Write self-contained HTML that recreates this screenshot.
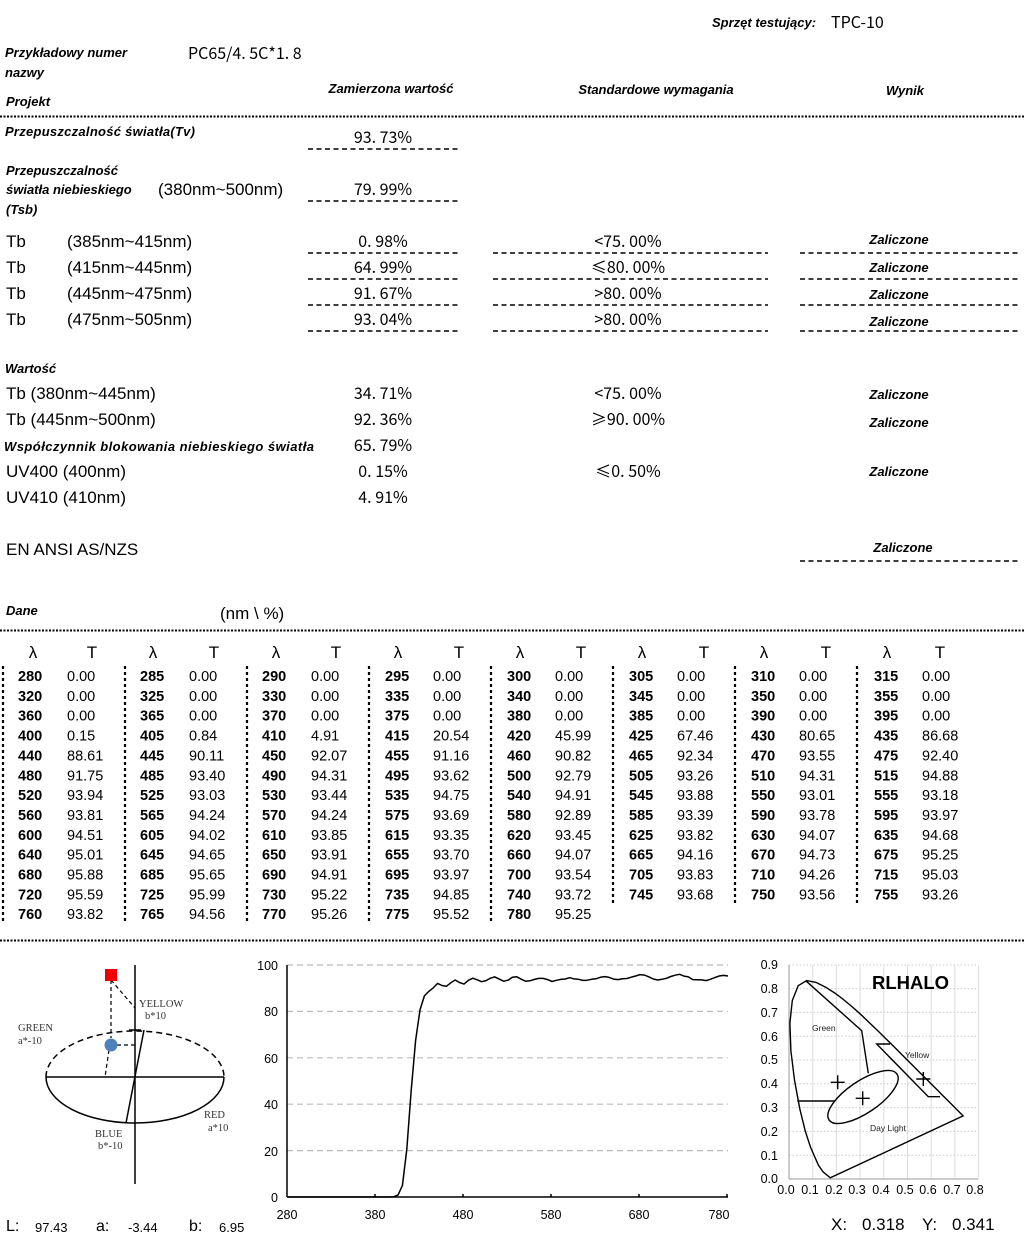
<!DOCTYPE html>
<html><head><meta charset="utf-8"><style>
html,body{margin:0;padding:0;background:#fff;}
svg{display:block;}
.bi{font-family:"Liberation Sans",sans-serif;font-weight:bold;font-style:italic;font-size:13px;}
.r{font-family:"Liberation Sans",sans-serif;font-size:17px;}
.v{font-family:"Noto Sans CJK SC","Liberation Sans",sans-serif;font-size:16px;}
.tb{font-family:"Liberation Sans",sans-serif;font-size:14.5px;}
.tb .n{font-weight:bold;}
.ax{font-family:"Liberation Sans",sans-serif;font-size:12.5px;}
.ser{font-family:"Liberation Serif",serif;font-size:10.5px;fill:#333;}
</style></head><body>
<svg width="1024" height="1238" viewBox="0 0 1024 1238" xmlns="http://www.w3.org/2000/svg">
<g fill="#000">
<text class="bi" x="712" y="27">Sprzęt testujący:</text>
<text class="v" x="831" y="28" font-size="14">TPC-10</text>
<text class="bi" x="5" y="57">Przykładowy numer</text>
<text class="bi" x="5" y="77">nazwy</text>
<text class="bi" x="6" y="106">Projekt</text>
<text class="v" x="188" y="59" font-size="14">PC65/4. 5C*1. 8</text>
<text class="bi" x="391" y="93" text-anchor="middle">Zamierzona wartość</text>
<text class="bi" x="656" y="94" text-anchor="middle">Standardowe wymagania</text>
<text class="bi" x="905" y="95" text-anchor="middle">Wynik</text>

<text class="bi" x="5" y="136" textLength="190">Przepuszczalność światła(Tv)</text>
<text class="v" x="383" y="143" text-anchor="middle">93. 73%</text>
<text class="bi" x="6" y="175">Przepuszczalność</text>
<text class="bi" x="6" y="194">światła niebieskiego</text>
<text class="r" x="158" y="195">(380nm~500nm)</text>
<text class="bi" x="6" y="214">(Tsb)</text>
<text class="v" x="383" y="195" text-anchor="middle">79. 99%</text>

<text class="r" x="6" y="247">Tb</text><text class="r" x="67" y="247">(385nm~415nm)</text>
<text class="r" x="6" y="273">Tb</text><text class="r" x="67" y="273">(415nm~445nm)</text>
<text class="r" x="6" y="299">Tb</text><text class="r" x="67" y="299">(445nm~475nm)</text>
<text class="r" x="6" y="325">Tb</text><text class="r" x="67" y="325">(475nm~505nm)</text>
<text class="v" x="383" y="247" text-anchor="middle">0. 98%</text>
<text class="v" x="383" y="273" text-anchor="middle">64. 99%</text>
<text class="v" x="383" y="299" text-anchor="middle">91. 67%</text>
<text class="v" x="383" y="325" text-anchor="middle">93. 04%</text>
<text class="v" x="628" y="247" text-anchor="middle">&lt;75. 00%</text>
<text class="v" x="628" y="273" text-anchor="middle">≤80. 00%</text>
<text class="v" x="628" y="299" text-anchor="middle">&gt;80. 00%</text>
<text class="v" x="628" y="325" text-anchor="middle">&gt;80. 00%</text>
<text class="bi" x="899" y="244" text-anchor="middle">Zaliczone</text>
<text class="bi" x="899" y="272" text-anchor="middle">Zaliczone</text>
<text class="bi" x="899" y="299" text-anchor="middle">Zaliczone</text>
<text class="bi" x="899" y="326" text-anchor="middle">Zaliczone</text>

<text class="bi" x="5" y="373">Wartość</text>
<text class="r" x="6" y="399">Tb  (380nm~445nm)</text>
<text class="r" x="6" y="425">Tb  (445nm~500nm)</text>
<text class="bi" x="4" y="451" textLength="310">Współczynnik blokowania niebieskiego światła</text>
<text class="r" x="6" y="477">UV400   (400nm)</text>
<text class="r" x="6" y="503">UV410   (410nm)</text>
<text class="v" x="383" y="399" text-anchor="middle">34. 71%</text>
<text class="v" x="383" y="425" text-anchor="middle">92. 36%</text>
<text class="v" x="383" y="451" text-anchor="middle">65. 79%</text>
<text class="v" x="383" y="477" text-anchor="middle">0. 15%</text>
<text class="v" x="383" y="503" text-anchor="middle">4. 91%</text>
<text class="v" x="628" y="399" text-anchor="middle">&lt;75. 00%</text>
<text class="v" x="628" y="425" text-anchor="middle">≥90. 00%</text>
<text class="v" x="628" y="477" text-anchor="middle">≤0. 50%</text>
<text class="bi" x="899" y="399" text-anchor="middle">Zaliczone</text>
<text class="bi" x="899" y="427" text-anchor="middle">Zaliczone</text>
<text class="bi" x="899" y="476" text-anchor="middle">Zaliczone</text>
<text class="r" x="6" y="555">EN ANSI AS/NZS</text>
<text class="bi" x="903" y="552" text-anchor="middle">Zaliczone</text>
<text class="bi" x="6" y="615">Dane</text>
<text class="r" x="220" y="619">(nm \  %)</text>
</g>

<g stroke="#000" stroke-width="2" stroke-dasharray="2 1.5">
<line x1="0" y1="116.5" x2="1024" y2="116.5"/>
<line x1="0" y1="630.5" x2="1024" y2="630.5"/>
<line x1="0" y1="940.5" x2="1024" y2="940.5"/>
</g>
<g stroke="#000" stroke-width="1.6" stroke-dasharray="5 3.5">
<line x1="308" y1="149" x2="459" y2="149"/>
<line x1="308" y1="201" x2="459" y2="201"/>
<line x1="308" y1="253" x2="459" y2="253"/>
<line x1="308" y1="279" x2="459" y2="279"/>
<line x1="308" y1="305" x2="459" y2="305"/>
<line x1="308" y1="331" x2="459" y2="331"/>
<line x1="493" y1="253" x2="768" y2="253"/>
<line x1="493" y1="279" x2="768" y2="279"/>
<line x1="493" y1="305" x2="768" y2="305"/>
<line x1="493" y1="331" x2="768" y2="331"/>
<line x1="800" y1="253" x2="1020" y2="253"/>
<line x1="800" y1="279" x2="1020" y2="279"/>
<line x1="800" y1="305" x2="1020" y2="305"/>
<line x1="800" y1="331" x2="1020" y2="331"/>
<line x1="800" y1="561" x2="1020" y2="561"/>
</g>

<g class="r" font-size="17" text-anchor="middle">
<text x="33" y="658">λ</text><text x="92" y="658">T</text>
<text x="153" y="658">λ</text><text x="214" y="658">T</text>
<text x="276" y="658">λ</text><text x="336" y="658">T</text>
<text x="398" y="658">λ</text><text x="459" y="658">T</text>
<text x="520" y="658">λ</text><text x="581" y="658">T</text>
<text x="642" y="658">λ</text><text x="704" y="658">T</text>
<text x="764" y="658">λ</text><text x="826" y="658">T</text>
<text x="887" y="658">λ</text><text x="940" y="658">T</text>
</g>
<g stroke="#000" stroke-width="2.2" stroke-dasharray="3 3">
<line x1="3" y1="666" x2="3" y2="921"/><line x1="125" y1="666" x2="125" y2="921"/>
<line x1="247" y1="666" x2="247" y2="921"/><line x1="369" y1="666" x2="369" y2="921"/>
<line x1="491" y1="666" x2="491" y2="921"/><line x1="613" y1="666" x2="613" y2="903"/>
<line x1="735" y1="666" x2="735" y2="903"/><line x1="857" y1="666" x2="857" y2="903"/>
</g>
<g class="tb">
<text class="n" y="661"><tspan x="18" dy="20">280</tspan><tspan x="18" dy="19.85">320</tspan><tspan x="18" dy="19.85">360</tspan><tspan x="18" dy="19.85">400</tspan><tspan x="18" dy="19.85">440</tspan><tspan x="18" dy="19.85">480</tspan><tspan x="18" dy="19.85">520</tspan><tspan x="18" dy="19.85">560</tspan><tspan x="18" dy="19.85">600</tspan><tspan x="18" dy="19.85">640</tspan><tspan x="18" dy="19.85">680</tspan><tspan x="18" dy="19.85">720</tspan><tspan x="18" dy="19.85">760</tspan></text>
<text y="661"><tspan x="67" dy="20">0.00</tspan><tspan x="67" dy="19.85">0.00</tspan><tspan x="67" dy="19.85">0.00</tspan><tspan x="67" dy="19.85">0.15</tspan><tspan x="67" dy="19.85">88.61</tspan><tspan x="67" dy="19.85">91.75</tspan><tspan x="67" dy="19.85">93.94</tspan><tspan x="67" dy="19.85">93.81</tspan><tspan x="67" dy="19.85">94.51</tspan><tspan x="67" dy="19.85">95.01</tspan><tspan x="67" dy="19.85">95.88</tspan><tspan x="67" dy="19.85">95.59</tspan><tspan x="67" dy="19.85">93.82</tspan></text>

<text class="n" y="661"><tspan x="140" dy="20">285</tspan><tspan x="140" dy="19.85">325</tspan><tspan x="140" dy="19.85">365</tspan><tspan x="140" dy="19.85">405</tspan><tspan x="140" dy="19.85">445</tspan><tspan x="140" dy="19.85">485</tspan><tspan x="140" dy="19.85">525</tspan><tspan x="140" dy="19.85">565</tspan><tspan x="140" dy="19.85">605</tspan><tspan x="140" dy="19.85">645</tspan><tspan x="140" dy="19.85">685</tspan><tspan x="140" dy="19.85">725</tspan><tspan x="140" dy="19.85">765</tspan></text>
<text y="661"><tspan x="189" dy="20">0.00</tspan><tspan x="189" dy="19.85">0.00</tspan><tspan x="189" dy="19.85">0.00</tspan><tspan x="189" dy="19.85">0.84</tspan><tspan x="189" dy="19.85">90.11</tspan><tspan x="189" dy="19.85">93.40</tspan><tspan x="189" dy="19.85">93.03</tspan><tspan x="189" dy="19.85">94.24</tspan><tspan x="189" dy="19.85">94.02</tspan><tspan x="189" dy="19.85">94.65</tspan><tspan x="189" dy="19.85">95.65</tspan><tspan x="189" dy="19.85">95.99</tspan><tspan x="189" dy="19.85">94.56</tspan></text>

<text class="n" y="661"><tspan x="262" dy="20">290</tspan><tspan x="262" dy="19.85">330</tspan><tspan x="262" dy="19.85">370</tspan><tspan x="262" dy="19.85">410</tspan><tspan x="262" dy="19.85">450</tspan><tspan x="262" dy="19.85">490</tspan><tspan x="262" dy="19.85">530</tspan><tspan x="262" dy="19.85">570</tspan><tspan x="262" dy="19.85">610</tspan><tspan x="262" dy="19.85">650</tspan><tspan x="262" dy="19.85">690</tspan><tspan x="262" dy="19.85">730</tspan><tspan x="262" dy="19.85">770</tspan></text>
<text y="661"><tspan x="311" dy="20">0.00</tspan><tspan x="311" dy="19.85">0.00</tspan><tspan x="311" dy="19.85">0.00</tspan><tspan x="311" dy="19.85">4.91</tspan><tspan x="311" dy="19.85">92.07</tspan><tspan x="311" dy="19.85">94.31</tspan><tspan x="311" dy="19.85">93.44</tspan><tspan x="311" dy="19.85">94.24</tspan><tspan x="311" dy="19.85">93.85</tspan><tspan x="311" dy="19.85">93.91</tspan><tspan x="311" dy="19.85">94.91</tspan><tspan x="311" dy="19.85">95.22</tspan><tspan x="311" dy="19.85">95.26</tspan></text>

<text class="n" y="661"><tspan x="385" dy="20">295</tspan><tspan x="385" dy="19.85">335</tspan><tspan x="385" dy="19.85">375</tspan><tspan x="385" dy="19.85">415</tspan><tspan x="385" dy="19.85">455</tspan><tspan x="385" dy="19.85">495</tspan><tspan x="385" dy="19.85">535</tspan><tspan x="385" dy="19.85">575</tspan><tspan x="385" dy="19.85">615</tspan><tspan x="385" dy="19.85">655</tspan><tspan x="385" dy="19.85">695</tspan><tspan x="385" dy="19.85">735</tspan><tspan x="385" dy="19.85">775</tspan></text>
<text y="661"><tspan x="433" dy="20">0.00</tspan><tspan x="433" dy="19.85">0.00</tspan><tspan x="433" dy="19.85">0.00</tspan><tspan x="433" dy="19.85">20.54</tspan><tspan x="433" dy="19.85">91.16</tspan><tspan x="433" dy="19.85">93.62</tspan><tspan x="433" dy="19.85">94.75</tspan><tspan x="433" dy="19.85">93.69</tspan><tspan x="433" dy="19.85">93.35</tspan><tspan x="433" dy="19.85">93.70</tspan><tspan x="433" dy="19.85">93.97</tspan><tspan x="433" dy="19.85">94.85</tspan><tspan x="433" dy="19.85">95.52</tspan></text>

<text class="n" y="661"><tspan x="507" dy="20">300</tspan><tspan x="507" dy="19.85">340</tspan><tspan x="507" dy="19.85">380</tspan><tspan x="507" dy="19.85">420</tspan><tspan x="507" dy="19.85">460</tspan><tspan x="507" dy="19.85">500</tspan><tspan x="507" dy="19.85">540</tspan><tspan x="507" dy="19.85">580</tspan><tspan x="507" dy="19.85">620</tspan><tspan x="507" dy="19.85">660</tspan><tspan x="507" dy="19.85">700</tspan><tspan x="507" dy="19.85">740</tspan><tspan x="507" dy="19.85">780</tspan></text>
<text y="661"><tspan x="555" dy="20">0.00</tspan><tspan x="555" dy="19.85">0.00</tspan><tspan x="555" dy="19.85">0.00</tspan><tspan x="555" dy="19.85">45.99</tspan><tspan x="555" dy="19.85">90.82</tspan><tspan x="555" dy="19.85">92.79</tspan><tspan x="555" dy="19.85">94.91</tspan><tspan x="555" dy="19.85">92.89</tspan><tspan x="555" dy="19.85">93.45</tspan><tspan x="555" dy="19.85">94.07</tspan><tspan x="555" dy="19.85">93.54</tspan><tspan x="555" dy="19.85">93.72</tspan><tspan x="555" dy="19.85">95.25</tspan></text>

<text class="n" y="661"><tspan x="629" dy="20">305</tspan><tspan x="629" dy="19.85">345</tspan><tspan x="629" dy="19.85">385</tspan><tspan x="629" dy="19.85">425</tspan><tspan x="629" dy="19.85">465</tspan><tspan x="629" dy="19.85">505</tspan><tspan x="629" dy="19.85">545</tspan><tspan x="629" dy="19.85">585</tspan><tspan x="629" dy="19.85">625</tspan><tspan x="629" dy="19.85">665</tspan><tspan x="629" dy="19.85">705</tspan><tspan x="629" dy="19.85">745</tspan></text>
<text y="661"><tspan x="677" dy="20">0.00</tspan><tspan x="677" dy="19.85">0.00</tspan><tspan x="677" dy="19.85">0.00</tspan><tspan x="677" dy="19.85">67.46</tspan><tspan x="677" dy="19.85">92.34</tspan><tspan x="677" dy="19.85">93.26</tspan><tspan x="677" dy="19.85">93.88</tspan><tspan x="677" dy="19.85">93.39</tspan><tspan x="677" dy="19.85">93.82</tspan><tspan x="677" dy="19.85">94.16</tspan><tspan x="677" dy="19.85">93.83</tspan><tspan x="677" dy="19.85">93.68</tspan></text>

<text class="n" y="661"><tspan x="751" dy="20">310</tspan><tspan x="751" dy="19.85">350</tspan><tspan x="751" dy="19.85">390</tspan><tspan x="751" dy="19.85">430</tspan><tspan x="751" dy="19.85">470</tspan><tspan x="751" dy="19.85">510</tspan><tspan x="751" dy="19.85">550</tspan><tspan x="751" dy="19.85">590</tspan><tspan x="751" dy="19.85">630</tspan><tspan x="751" dy="19.85">670</tspan><tspan x="751" dy="19.85">710</tspan><tspan x="751" dy="19.85">750</tspan></text>
<text y="661"><tspan x="799" dy="20">0.00</tspan><tspan x="799" dy="19.85">0.00</tspan><tspan x="799" dy="19.85">0.00</tspan><tspan x="799" dy="19.85">80.65</tspan><tspan x="799" dy="19.85">93.55</tspan><tspan x="799" dy="19.85">94.31</tspan><tspan x="799" dy="19.85">93.01</tspan><tspan x="799" dy="19.85">93.78</tspan><tspan x="799" dy="19.85">94.07</tspan><tspan x="799" dy="19.85">94.73</tspan><tspan x="799" dy="19.85">94.26</tspan><tspan x="799" dy="19.85">93.56</tspan></text>

<text class="n" y="661"><tspan x="874" dy="20">315</tspan><tspan x="874" dy="19.85">355</tspan><tspan x="874" dy="19.85">395</tspan><tspan x="874" dy="19.85">435</tspan><tspan x="874" dy="19.85">475</tspan><tspan x="874" dy="19.85">515</tspan><tspan x="874" dy="19.85">555</tspan><tspan x="874" dy="19.85">595</tspan><tspan x="874" dy="19.85">635</tspan><tspan x="874" dy="19.85">675</tspan><tspan x="874" dy="19.85">715</tspan><tspan x="874" dy="19.85">755</tspan></text>
<text y="661"><tspan x="922" dy="20">0.00</tspan><tspan x="922" dy="19.85">0.00</tspan><tspan x="922" dy="19.85">0.00</tspan><tspan x="922" dy="19.85">86.68</tspan><tspan x="922" dy="19.85">92.40</tspan><tspan x="922" dy="19.85">94.88</tspan><tspan x="922" dy="19.85">93.18</tspan><tspan x="922" dy="19.85">93.97</tspan><tspan x="922" dy="19.85">94.68</tspan><tspan x="922" dy="19.85">95.25</tspan><tspan x="922" dy="19.85">95.03</tspan><tspan x="922" dy="19.85">93.26</tspan></text>
</g>

<g fill="none" stroke="#000" stroke-width="1.5">
<path d="M46,1077 A89,46 0 0 1 224,1077" stroke-dasharray="6 4"/>
<path d="M46,1077 A89,46 0 0 0 224,1077"/>
<line x1="46" y1="1077" x2="224" y2="1077"/>
<line x1="135" y1="965" x2="135" y2="1184"/>
<line x1="144" y1="1030" x2="126" y2="1123"/>
<line x1="129" y1="1030" x2="141" y2="1030"/>
<g stroke-width="1.2" stroke-dasharray="4 3">
<line x1="111" y1="980" x2="111" y2="1038"/>
<line x1="111" y1="980" x2="135" y2="1008"/>
<line x1="117" y1="1045" x2="135" y2="1045"/>
<line x1="109" y1="1050" x2="105" y2="1077"/>
</g>
</g>
<rect x="105" y="969" width="12" height="12" fill="#ee0000"/>
<circle cx="111" cy="1045" r="6.5" fill="#4f81bd"/>
<g class="ser">
<text x="139" y="1007">YELLOW</text><text x="145" y="1019">b*10</text>
<text x="18" y="1031">GREEN</text><text x="18" y="1044">a*-10</text>
<text x="204" y="1118">RED</text><text x="208" y="1131">a*10</text>
<text x="95" y="1137">BLUE</text><text x="98" y="1149">b*-10</text>
</g>
<g font-family="Liberation Sans,sans-serif" fill="#000">
<text x="6" y="1231" font-size="16">L:</text><text x="35" y="1232" font-size="13">97.43</text>
<text x="96" y="1231" font-size="16">a:</text><text x="128" y="1232" font-size="13">-3.44</text>
<text x="189" y="1231" font-size="16">b:</text><text x="219" y="1232" font-size="13">6.95</text>
</g>

<g stroke="#bbb" stroke-width="1.2" stroke-dasharray="6 4">
<line x1="287" y1="965" x2="728" y2="965"/>
<line x1="287" y1="1011.4" x2="728" y2="1011.4"/>
<line x1="287" y1="1057.8" x2="728" y2="1057.8"/>
<line x1="287" y1="1104.2" x2="728" y2="1104.2"/>
<line x1="287" y1="1150.6" x2="728" y2="1150.6"/>
</g>
<g stroke="#000" stroke-width="1.5">
<line x1="287" y1="965" x2="287" y2="1197"/>
<line x1="287" y1="1197" x2="728" y2="1197"/>
<line x1="375" y1="1194" x2="375" y2="1197"/><line x1="463" y1="1194" x2="463" y2="1197"/>
<line x1="551" y1="1194" x2="551" y2="1197"/><line x1="639" y1="1194" x2="639" y2="1197"/>
<line x1="727" y1="1194" x2="727" y2="1197"/>
</g>
<g class="ax" text-anchor="end">
<text x="278" y="970">100</text><text x="278" y="1016">80</text><text x="278" y="1063">60</text>
<text x="278" y="1109">40</text><text x="278" y="1156">20</text><text x="278" y="1202">0</text>
</g>
<g class="ax" text-anchor="middle">
<text x="287" y="1219">280</text><text x="375" y="1219">380</text><text x="463" y="1219">480</text>
<text x="551" y="1219">580</text><text x="639" y="1219">680</text><text x="719" y="1219">780</text>
</g>
<polyline id="curve" fill="none" stroke="#000" stroke-width="1.5" stroke-linejoin="round" points=""/>

<g stroke="#ddd" stroke-width="1">
<line x1="812.7" y1="965" x2="812.7" y2="1179"/><line x1="836.4" y1="965" x2="836.4" y2="1179"/>
<line x1="860.1" y1="965" x2="860.1" y2="1179"/><line x1="883.8" y1="965" x2="883.8" y2="1179"/>
<line x1="907.5" y1="965" x2="907.5" y2="1179"/><line x1="931.2" y1="965" x2="931.2" y2="1179"/>
<line x1="954.9" y1="965" x2="954.9" y2="1179"/><line x1="978.6" y1="965" x2="978.6" y2="1179"/>
</g>
<g stroke="#ccc" stroke-width="1" stroke-dasharray="1.5 2">
<line x1="789" y1="1155.2" x2="978" y2="1155.2"/><line x1="789" y1="1131.4" x2="978" y2="1131.4"/>
<line x1="789" y1="1107.6" x2="978" y2="1107.6"/><line x1="789" y1="1083.8" x2="978" y2="1083.8"/>
<line x1="789" y1="1060" x2="978" y2="1060"/><line x1="789" y1="1036.2" x2="978" y2="1036.2"/>
<line x1="789" y1="1012.4" x2="978" y2="1012.4"/><line x1="789" y1="988.6" x2="978" y2="988.6"/>
<line x1="789" y1="965" x2="978" y2="965"/>
</g>
<g stroke="#999" stroke-width="1"><line x1="789" y1="965" x2="789" y2="1179"/><line x1="789" y1="1179" x2="978" y2="1179"/></g>
<g class="ax" font-size="11.5" text-anchor="end">
<text x="778" y="969">0.9</text><text x="778" y="993">0.8</text><text x="778" y="1017">0.7</text>
<text x="778" y="1041">0.6</text><text x="778" y="1064">0.5</text><text x="778" y="1088">0.4</text>
<text x="778" y="1112">0.3</text><text x="778" y="1136">0.2</text><text x="778" y="1160">0.1</text>
<text x="778" y="1183">0.0</text>
</g>
<g class="ax" font-size="11.5" text-anchor="middle">
<text x="786" y="1194">0.0</text><text x="810" y="1194">0.1</text><text x="834" y="1194">0.2</text>
<text x="857" y="1194">0.3</text><text x="881" y="1194">0.4</text><text x="905" y="1194">0.5</text>
<text x="928" y="1194">0.6</text><text x="952" y="1194">0.7</text><text x="975" y="1194">0.8</text>
</g>
<polygon id="locus" fill="none" stroke="#000" stroke-width="1.4" points=""/>
<g fill="none" stroke="#000" stroke-width="1.4">
<polyline points="805.7,980.7 861.7,1030.7 868.3,1073.3"/>
<line x1="797.3" y1="1101" x2="835" y2="1101"/>
<polyline points="890,1044 876.7,1044 928.3,1096.7 940,1096.7"/>
<ellipse cx="863" cy="1097" rx="41" ry="16" transform="rotate(-34 863 1097)"/>
<path d="M830.7,1082.3h14M837.7,1075.3v14M855.7,1098.3h14M862.7,1091.3v14M916.3,1079h14M923.3,1072v14"/>
</g>
<g font-family="Liberation Sans,sans-serif" fill="#222" font-size="8.5">
<text x="812" y="1031">Green</text><text x="905" y="1058">Yellow</text><text x="870" y="1131">Day Light</text>
</g>
<text x="872" y="989" font-family="Liberation Sans,sans-serif" font-weight="bold" font-size="18.5">RLHALO</text>
<g font-family="Liberation Sans,sans-serif" font-size="17" fill="#000">
<text x="831" y="1230">X:</text><text x="862" y="1230">0.318</text>
<text x="922" y="1230">Y:</text><text x="952" y="1230">0.341</text>
</g>
</svg>
<script>
var T=[0,0,0,0,0,0,0,0, 0,0,0,0,0,0,0,0, 0,0,0,0,0,0,0,0,
0.15,0.84,4.91,20.54,45.99,67.46,80.65,86.68,
88.61,90.11,92.07,91.16,90.82,92.34,93.55,92.40,
91.75,93.40,94.31,93.62,92.79,93.26,94.31,94.88,
93.94,93.03,93.44,94.75,94.91,93.88,93.01,93.18,
93.81,94.24,94.24,93.69,92.89,93.39,93.78,93.97,
94.51,94.02,93.85,93.35,93.45,93.82,94.07,94.68,
95.01,94.65,93.91,93.70,94.07,94.16,94.73,95.25,
95.88,95.65,94.91,93.97,93.54,93.83,94.26,95.03,
95.59,95.99,95.22,94.85,93.72,93.68,93.56,93.26,
93.82,94.56,95.26,95.52,95.25];
var p=[];for(var i=0;i<T.length;i++){var nm=280+5*i;p.push((287+(nm-280)*0.88+1).toFixed(1)+","+(1197-T[i]*2.32).toFixed(1));}
document.getElementById("curve").setAttribute("points",p.join(" "));
var L=[[0.1741,0.005],[0.144,0.0297],[0.1241,0.0578],[0.0913,0.1327],[0.0687,0.2007],[0.0454,0.295],[0.0235,0.4127],[0.0082,0.5384],[0.0039,0.6548],[0.0139,0.7502],[0.0389,0.812],[0.0743,0.8338],[0.1142,0.8262],[0.1547,0.8059],[0.1929,0.7816],[0.2296,0.7543],[0.2658,0.7243],[0.3016,0.6923],[0.3373,0.6589],[0.3731,0.6245],[0.4087,0.5896],[0.4441,0.5547],[0.4788,0.5202],[0.5125,0.4866],[0.5448,0.4544],[0.5752,0.4242],[0.6029,0.3965],[0.627,0.3725],[0.6482,0.3514],[0.6658,0.334],[0.7347,0.2653]];
var q=[];for(var j=0;j<L.length;j++){q.push((789+L[j][0]*237).toFixed(1)+","+(1179-L[j][1]*238).toFixed(1));}
document.getElementById("locus").setAttribute("points",q.join(" "));
</script>
</body></html>
